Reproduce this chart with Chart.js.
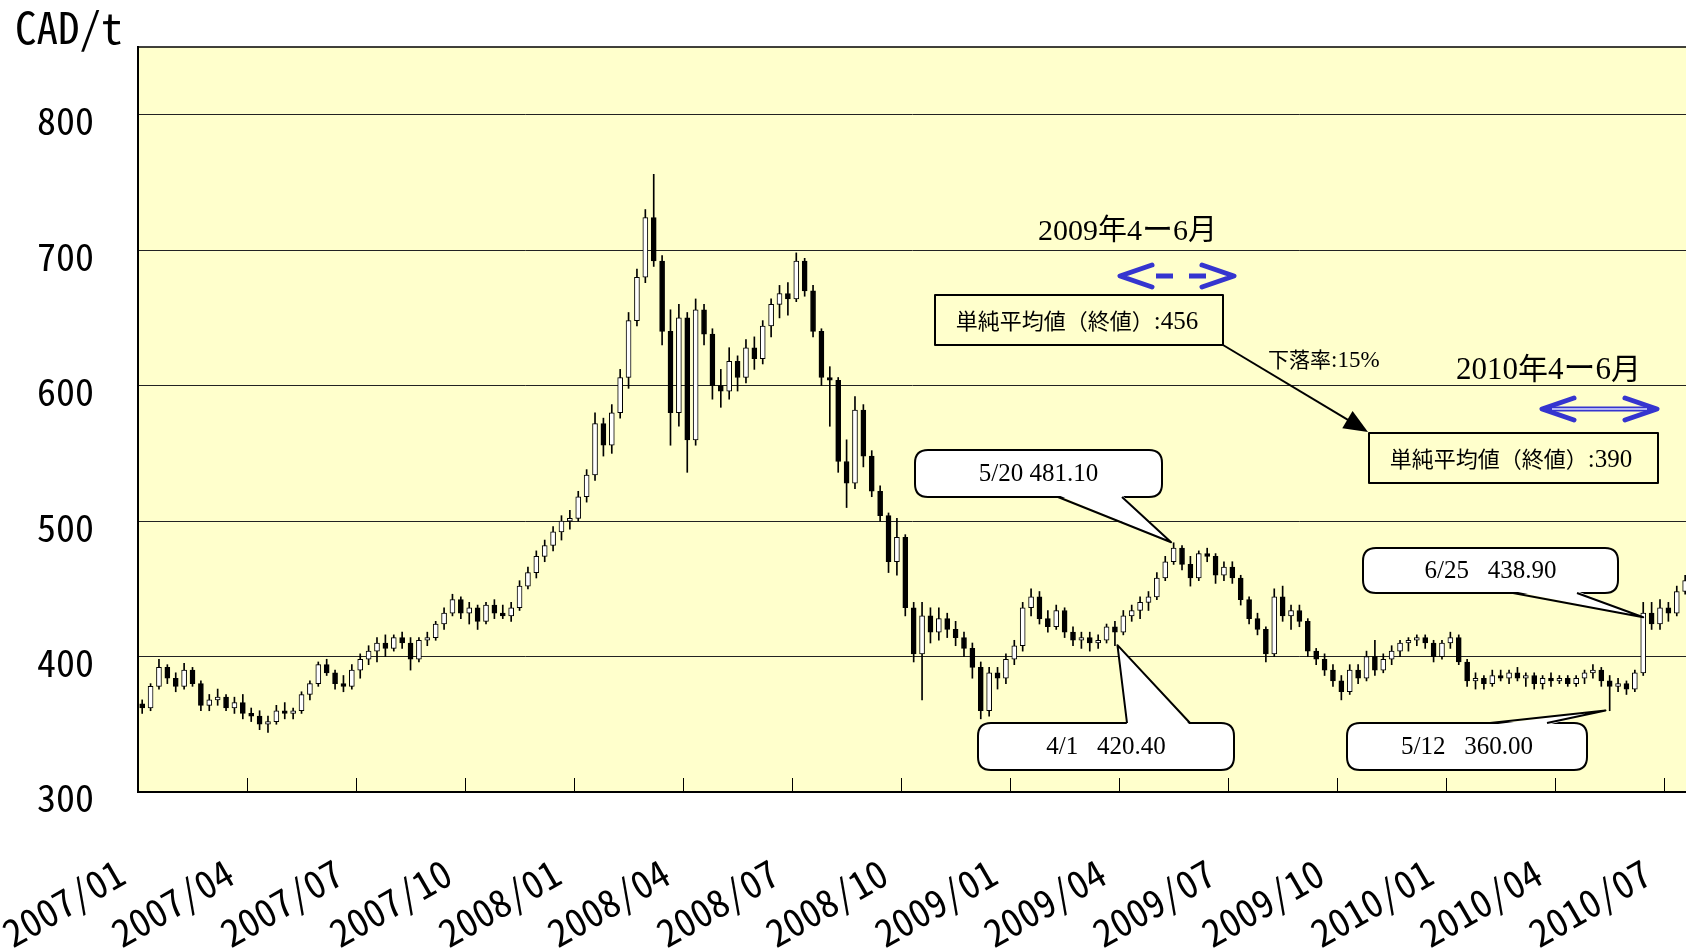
<!DOCTYPE html>
<html><head><meta charset="utf-8">
<script src="https://cdn.jsdelivr.net/npm/chart.js@4.4.0/dist/chart.umd.min.js"></script>
<style>
html,body{margin:0;padding:0;background:#fff;overflow:hidden;}
#wrap{position:relative;width:1686px;height:952px;}
</style></head><body>
<div id="wrap"><canvas id="c"></canvas></div>
<script>
// ---- data (weekly candles, CAD/t) ----
const quarterLabels = ['2007/01','2007/04','2007/07','2007/10','2008/01','2008/04','2008/07','2008/10','2009/01','2009/04','2009/07','2009/10','2010/01','2010/04','2010/07'];
const weeksPerQuarter = 13;
const yTicks = [300,400,500,600,700,800];

const opens = [365,362,378,392,384,378,390,380,364,368,370,362,366,358,356,350,352,360,358,360,372,380,394,388,380,378,390,398,404,410,406,414,410,398,412,414,424,432,442,432,436,426,438,432,430,436,452,462,474,482,492,500,502,518,534,572,556,580,606,648,680,724,692,640,580,650,560,656,638,600,596,618,606,628,620,644,660,668,664,692,670,640,606,604,544,528,582,548,522,504,470,488,436,402,430,418,428,420,414,406,392,360,388,384,398,408,436,444,428,422,434,418,412,414,410,412,422,418,430,434,440,444,458,470,480,468,458,476,474,460,466,458,442,428,420,402,444,430,434,426,404,398,390,382,374,390,384,400,390,398,404,410,412,414,410,400,410,414,396,382,384,380,386,384,388,384,386,380,384,382,384,380,384,388,390,382,378,380,376,388,432,424,436,432,448];
const highs = [368,380,398,394,388,395,392,382,372,376,372,370,372,362,360,356,364,366,362,374,382,396,398,390,386,394,402,408,414,416,416,418,414,414,418,426,436,446,444,440,438,440,442,438,440,456,466,478,486,496,504,508,522,538,580,576,586,612,654,686,730,756,696,656,660,654,664,660,642,612,628,622,634,636,648,664,674,676,698,694,674,642,614,606,560,592,586,552,526,506,502,490,440,440,436,436,432,426,418,410,396,392,392,402,412,440,450,448,434,438,436,422,418,418,416,424,426,434,438,444,448,462,474,484,482,474,478,480,476,470,470,460,444,432,422,450,452,438,438,428,406,402,394,386,394,394,404,412,402,408,412,414,416,416,412,412,418,416,398,388,386,390,390,390,392,388,388,386,388,386,386,386,390,394,392,386,384,382,390,440,440,442,440,452,460];
const lows = [358,360,376,380,374,376,378,360,360,364,360,358,354,352,346,344,350,354,354,358,368,378,386,376,374,376,384,394,396,400,404,406,390,396,408,412,420,430,428,424,420,424,428,428,426,434,450,458,470,478,486,494,500,514,530,548,550,576,598,644,676,688,630,556,570,536,556,630,590,584,590,596,602,612,616,636,650,652,662,666,636,600,570,536,510,524,540,518,500,462,460,430,396,368,410,412,414,408,400,384,354,356,376,380,394,404,430,424,418,420,414,408,406,404,406,410,408,416,426,428,434,442,456,468,464,452,456,470,454,456,454,438,424,416,396,400,426,420,422,400,394,386,378,368,372,380,382,386,388,394,400,404,408,406,396,398,406,394,378,376,376,378,382,380,382,378,376,376,378,380,378,378,380,384,378,360,374,372,374,386,420,420,426,430,446];
const closes = [362,378,392,384,378,390,380,364,368,370,362,366,358,356,350,352,360,358,360,372,380,394,388,380,378,390,398,404,410,406,414,410,398,412,414,424,432,442,432,436,426,438,432,430,436,452,462,474,482,492,500,502,518,534,572,556,580,606,648,680,724,692,640,580,650,560,656,638,600,596,618,606,628,620,644,660,668,664,692,670,640,606,604,544,528,582,548,522,504,470,488,436,402,430,418,428,420,414,406,392,360,388,384,398,408,436,444,428,422,434,418,412,414,410,412,422,418,430,434,440,444,458,470,480,468,458,476,474,460,466,458,442,428,420,402,444,430,434,426,404,398,390,382,374,390,384,400,390,398,404,410,412,414,410,400,410,414,396,382,384,380,386,384,388,384,386,380,384,382,384,380,384,388,390,382,378,380,376,388,432,424,436,432,448,456];

// callout tips (week position, value)
const calloutTexts = ['5/20 481.10','4/1   420.40','5/12   360.00','6/25   438.90'];
const calloutTipWeeks = [123.2, 116.8, 175.0, 179.5];
const calloutTipValues = [484.4, 408.4, 360.2, 429.0];

// ---- chart ----
const monoFont = "'Noto Sans Mono CJK JP','Noto Sans CJK JP','DejaVu Sans Mono',monospace";
const serifFont = "'Liberation Serif',serif";
const cjkFont = "'Noto Sans CJK JP',sans-serif";

const bodies = opens.map((o,i)=>({x:i+0.5, y:[o, closes[i]]}));
const wicks = highs.map((h,i)=>({x:i+0.5, y:[lows[i], h]}));
const bodyColors = opens.map((o,i)=> closes[i] >= o ? '#ffffff' : '#000000');

function roundRectPath(ctx,x,y,w,h,r){
  ctx.beginPath();
  ctx.moveTo(x+r,y); ctx.lineTo(x+w-r,y); ctx.quadraticCurveTo(x+w,y,x+w,y+r);
  ctx.lineTo(x+w,y+h-r); ctx.quadraticCurveTo(x+w,y+h,x+w-r,y+h);
  ctx.lineTo(x+r,y+h); ctx.quadraticCurveTo(x,y+h,x,y+h-r);
  ctx.lineTo(x,y+r); ctx.quadraticCurveTo(x,y,x+r,y); ctx.closePath();
}
function mixedText(ctx, parts, x, y, align){
  let total = 0;
  parts.forEach(p=>{ ctx.font = p[1]; total += ctx.measureText(p[0]).width; });
  let cx = align==='center' ? x - total/2 : x;
  ctx.textAlign='left'; ctx.textBaseline='alphabetic';
  parts.forEach(p=>{ ctx.font = p[1]; ctx.fillText(p[0], cx, y); cx += ctx.measureText(p[0]).width; });
}
function callout(ctx, box, tip, text){
  ctx.save();
  ctx.fillStyle='#fff'; ctx.strokeStyle='#000'; ctx.lineWidth=2;
  roundRectPath(ctx, box.x, box.y, box.w, box.h, 13);
  ctx.fill(); ctx.stroke();
  const ey = box.edge==='top' ? box.y : box.y+box.h;
  const inw = box.edge==='top' ? 2 : -2;
  ctx.beginPath(); ctx.moveTo(box.b1, ey+inw); ctx.lineTo(tip.x, tip.y); ctx.lineTo(box.b2, ey+inw); ctx.closePath(); ctx.fill();
  ctx.beginPath(); ctx.moveTo(box.b1, ey); ctx.lineTo(tip.x, tip.y); ctx.lineTo(box.b2, ey); ctx.stroke();
  ctx.fillStyle='#000'; ctx.font = "25px "+serifFont; ctx.textAlign='center'; ctx.textBaseline='middle';
  ctx.fillText(text, box.x+box.w/2, box.y+box.h/2+1);
  ctx.restore();
}
function chevron(ctx, x, y, dir){
  ctx.beginPath();
  ctx.moveTo(x + dir*32, y-11); ctx.lineTo(x, y); ctx.lineTo(x + dir*32, y+11);
  ctx.stroke();
}
function zeroPad(s){ s.paddingLeft=0; s.paddingRight=0; s.paddingTop=0; s.paddingBottom=0; }

const decor = {
  id:'decor',
  beforeDraw(chart){
    const {ctx, chartArea:a} = chart;
    ctx.save();
    ctx.fillStyle='#fff'; ctx.fillRect(0,0,chart.width,chart.height);
    ctx.fillStyle='#FFFFCC'; ctx.fillRect(a.left,a.top,a.right-a.left,a.bottom-a.top);
    ctx.restore();
  },
  afterDraw(chart){
    const {ctx, chartArea:a} = chart;
    const xs = chart.scales.x, ys = chart.scales.y;
    ctx.save();
    ctx.strokeStyle='#000'; ctx.lineWidth=1.5;
    ctx.beginPath(); ctx.moveTo(a.left, a.top); ctx.lineTo(a.right, a.top); ctx.stroke();
    ctx.fillStyle='#000'; ctx.font="43px "+monoFont; ctx.textAlign='left'; ctx.textBaseline='alphabetic';
    ctx.fillText('CAD/t', 15, 44);

    mixedText(ctx, [['2009',"30px "+serifFont],['年',"29px "+cjkFont],['4',"30px "+serifFont],['ー',"31px "+cjkFont],['6',"30px "+serifFont],['月',"29px "+cjkFont]], 1038, 240, 'left');
    mixedText(ctx, [['2010',"31px "+serifFont],['年',"30px "+cjkFont],['4',"31px "+serifFont],['ー',"32px "+cjkFont],['6',"31px "+serifFont],['月',"30px "+cjkFont]], 1456, 379, 'left');

    ctx.strokeStyle='#3535CF'; ctx.lineWidth=5; ctx.lineCap='round'; ctx.lineJoin='round';
    chevron(ctx, 1120, 276, 1); chevron(ctx, 1234, 276, -1);
    ctx.setLineDash([17,16]); ctx.lineCap='butt';
    ctx.beginPath(); ctx.moveTo(1156,276); ctx.lineTo(1206,276); ctx.stroke();
    ctx.setLineDash([]); ctx.lineCap='round';
    chevron(ctx, 1542, 409, 1); chevron(ctx, 1657, 409, -1);
    ctx.lineCap='butt'; ctx.lineWidth=5;
    ctx.beginPath(); ctx.moveTo(1546,409); ctx.lineTo(1653,409); ctx.stroke();
    ctx.strokeStyle='#DDE0FF'; ctx.lineWidth=1.5;
    ctx.beginPath(); ctx.moveTo(1552,409); ctx.lineTo(1647,409); ctx.stroke();

    ctx.strokeStyle='#000'; ctx.lineWidth=2;
    ctx.strokeRect(935, 295, 288, 50);
    ctx.strokeRect(1369, 433, 289, 50);
    ctx.fillStyle='#000';
    mixedText(ctx, [['単純平均値（終値）',"22px "+cjkFont],[':456',"25px "+serifFont]], 1077, 329, 'center');
    mixedText(ctx, [['単純平均値（終値）',"22px "+cjkFont],[':390',"25px "+serifFont]], 1511, 467, 'center');
    const x0=1223,y0=345,x1=1368,y1=432;
    const ang=Math.atan2(y1-y0,x1-x0);
    ctx.beginPath(); ctx.moveTo(x0,y0); ctx.lineTo(x1-20*Math.cos(ang), y1-20*Math.sin(ang)); ctx.stroke();
    ctx.beginPath();
    ctx.moveTo(x1,y1);
    ctx.lineTo(x1-24*Math.cos(ang)+10*Math.sin(ang), y1-24*Math.sin(ang)-10*Math.cos(ang));
    ctx.lineTo(x1-24*Math.cos(ang)-10*Math.sin(ang), y1-24*Math.sin(ang)+10*Math.cos(ang));
    ctx.closePath(); ctx.fill();
    mixedText(ctx, [['下落率',"21px "+cjkFont],[':15%',"23px "+serifFont]], 1268, 367, 'left');

    const boxes = [
      {x:915, y:450, w:247, h:47, edge:'bottom', b1:1058, b2:1122},
      {x:978, y:723, w:256, h:47, edge:'top', b1:1127, b2:1190},
      {x:1347, y:723, w:240, h:47, edge:'top', b1:1490, b2:1547},
      {x:1363, y:548, w:255, h:45, edge:'bottom', b1:1513, b2:1577}
    ];
    boxes.forEach((b,i)=>{
      callout(ctx, b, {x: xs.getPixelForValue(calloutTipWeeks[i]), y: ys.getPixelForValue(calloutTipValues[i])}, calloutTexts[i]);
    });
    ctx.restore();
  }
};

new Chart(document.getElementById('c'), {
  type:'bar',
  data:{
    datasets:[
      {label:'wick', data:wicks, backgroundColor:'#000', borderWidth:0, barThickness:1, maxBarThickness:1, grouped:false, order:2},
      {label:'body', data:bodies, backgroundColor:bodyColors, borderColor:'#000', borderWidth:1, borderSkipped:false, barThickness:5, maxBarThickness:5, minBarLength:2, grouped:false, order:1}
    ]
  },
  options:{
    responsive:true, maintainAspectRatio:false, animation:false,
    layout:{padding:{top:47,left:0,right:0,bottom:0}},
    plugins:{legend:{display:false}, tooltip:{enabled:false}, title:{display:false}},
    scales:{
      x:{
        type:'linear', min:0, max:184.6, offset:false,
        afterBuildTicks: s => { s.ticks = quarterLabels.map((l,i)=>({value:i*weeksPerQuarter})); },
        ticks:{autoSkip:false, minRotation:30, maxRotation:30, padding:72, labelOffset:-17, color:'#000',
               font:{family:monoFont, size:38}, callback:(v)=>quarterLabels[Math.round(v/weeksPerQuarter)]},
        grid:{drawOnChartArea:false, drawTicks:true, tickLength:-14, color:'#000', lineWidth:1, offset:false},
        border:{display:true, color:'#000', width:2},
        afterFit: s => { s.height = 160; zeroPad(s); }
      },
      y:{
        type:'linear', min:300, max:850,
        afterBuildTicks: s => { s.ticks = yTicks.map(v=>({value:v})); },
        ticks:{padding:44, labelOffset:6, color:'#000', font:{family:monoFont, size:38}, callback:(v)=>String(v)},
        grid:{drawTicks:false, color:'#222', lineWidth:1},
        border:{display:true, color:'#000', width:2},
        afterFit: s => { s.width = 138; zeroPad(s); }
      }
    }
  },
  plugins:[decor]
});
</script>
</body></html>
